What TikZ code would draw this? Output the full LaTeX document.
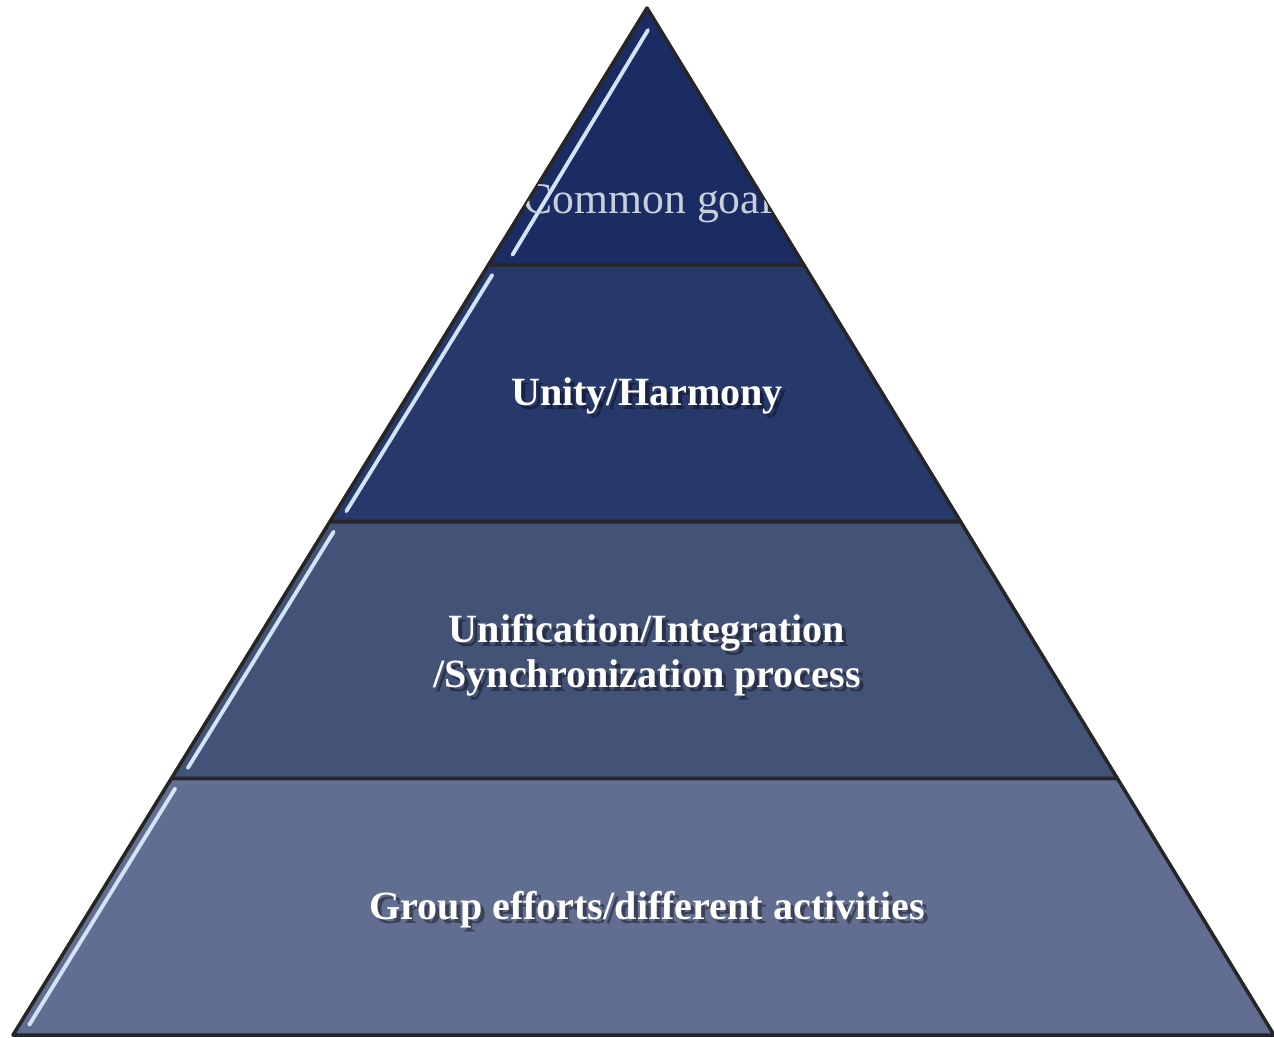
\documentclass[tikz,border=0pt]{standalone}
\usepackage{fontspec}
\setmainfont{Liberation Serif}
\usetikzlibrary{calc}

\begin{document}
\begin{tikzpicture}[x=0.01cm, y=-0.01cm,
    tiertext/.style={text=white, font=\fontsize{11.4}{12.8}\selectfont\bfseries, align=center, inner sep=0pt},
    tiershadow/.style={tiertext, text=black, opacity=0.4},
    tieredge/.style={draw=black!85, line width=1pt, line join=round},
    shine/.style={draw=HL, line width=1.1pt, line cap=round}]
    \definecolor{T1}{HTML}{1B2B63}
    \definecolor{T2}{HTML}{27386B}
    \definecolor{T3}{HTML}{435277}
    \definecolor{T4}{HTML}{616E91}
    \definecolor{HL}{HTML}{D2E4F8}
    \definecolor{GT}{HTML}{C9D0DC}

    \useasboundingbox (0,0) rectangle (1274,1037);

    \coordinate (top) at (647,8);
    \coordinate (bl) at (13,1035);
    \coordinate (br) at (1274,1035);

    \coordinate (l1) at ($ (top)!.25!(bl) $);
    \coordinate (r1) at ($ (top)!.25!(br) $);
    \coordinate (l2) at ($ (top)!.5!(bl) $);
    \coordinate (r2) at ($ (top)!.5!(br) $);
    \coordinate (l3) at ($ (top)!.75!(bl) $);
    \coordinate (r3) at ($ (top)!.75!(br) $);

    \path[tieredge, fill=T4] (l3) -- (bl) -- (br) -- (r3) -- cycle;
    \path[tieredge, fill=T3] (l2) -- (l3) -- (r3) -- (r2) -- cycle;
    \path[tieredge, fill=T2] (l1) -- (l2) -- (r2) -- (r1) -- cycle;
    \path[tieredge, fill=T1] (top) -- (l1) -- (r1) -- cycle;

    % light edge on the left of each tier
    \path[shine] ($ (top) + (1,22) $) -- ($ (l1) + (24,-10) $);
    \path[shine] ($ (l1)!.04!(l2) + (10,0) $) -- ($ (l1)!.96!(l2) + (10,0) $);
    \path[shine] ($ (l2)!.04!(l3) + (10,0) $) -- ($ (l2)!.96!(l3) + (10,0) $);
    \path[shine] ($ (l3)!.04!(bl) + (10,0) $) -- ($ (l3)!.96!(bl) + (10,0) $);

    \begin{scope}
        \clip (top) -- (l1) -- (r1) -- cycle;
        \node[text=GT, font=\fontsize{12.4}{14}\selectfont, inner sep=0pt] (goal) at (648,203) {Common goal};
    \end{scope}

    \node[tiershadow] (s2) at (651,400) {Unity/Harmony};
    \node[tiertext] (t2) at (647,396) {Unity/Harmony};

    \node[tiershadow] (s3) at (651,659) {Unification/Integration\\/Synchronization process};
    \node[tiertext] (t3) at (647,655) {Unification/Integration\\/Synchronization process};

    \node[tiershadow] (s4) at (651,914) {Group efforts/different activities};
    \node[tiertext] (t4) at (647,910) {Group efforts/different activities};

\end{tikzpicture}
\end{document}
